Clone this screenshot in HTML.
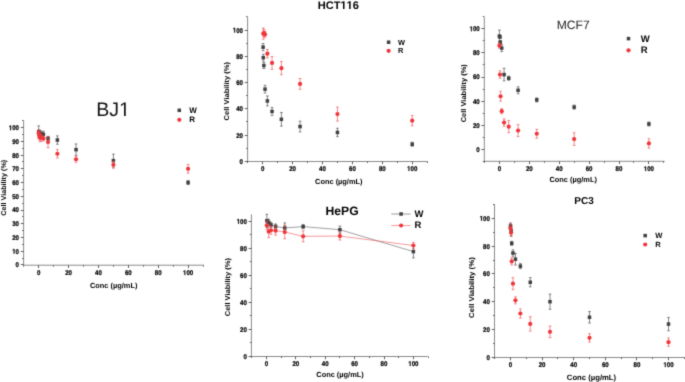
<!DOCTYPE html>
<html><head><meta charset="utf-8"><title>Cell viability</title>
<style>
html,body{margin:0;padding:0;background:#fff;}
body{width:685px;height:382px;overflow:hidden;}
svg{display:block;text-rendering:geometricPrecision;font-family:"Liberation Sans",sans-serif;}
</style></head><body>
<svg width="685" height="382" viewBox="0 0 685 382">
<defs><filter id="bl" x="0" y="0" width="100%" height="100%" color-interpolation-filters="sRGB"><feConvolveMatrix order="3" kernelMatrix="0.02 0.10 0.02 0.10 0.52 0.10 0.02 0.10 0.02" divisor="1" edgeMode="duplicate"/></filter></defs>
<g filter="url(#bl)">
<rect width="685" height="382" fill="#fff"/>
<line x1="23.6" y1="120.7" x2="23.6" y2="265.7" stroke="#8a8a8a" stroke-width="1"/>
<line x1="23.1" y1="265.2" x2="203.8" y2="265.2" stroke="#8a8a8a" stroke-width="1"/>
<line x1="20.8" y1="264.5" x2="23.6" y2="264.5" stroke="#505050" stroke-width="0.9"/>
<g transform="translate(0,267.36) scale(1,1.120) translate(0,-267.36)">
<text x="15.61" y="267.36" font-size="6.1" font-weight="bold" fill="#000" stroke="#000" stroke-width="0.2">0</text>
</g>
<line x1="22.1" y1="258.5" x2="23.6" y2="258.5" stroke="#505050" stroke-width="0.9"/>
<line x1="20.8" y1="251.5" x2="23.6" y2="251.5" stroke="#505050" stroke-width="0.9"/>
<g transform="translate(0,253.64) scale(1,1.120) translate(0,-253.64)">
<path d="M478,0 L478,1170 L140,959 L140,1180 L493,1409 L759,1409 L759,0 Z" fill="#000" stroke="#000" stroke-width="67.1" transform="translate(12.21,253.64) scale(0.00298,-0.00298)"/>
<text x="15.61" y="253.64" font-size="6.1" font-weight="bold" fill="#000" stroke="#000" stroke-width="0.2">0</text>
</g>
<line x1="22.1" y1="244.5" x2="23.6" y2="244.5" stroke="#505050" stroke-width="0.9"/>
<line x1="20.8" y1="237.5" x2="23.6" y2="237.5" stroke="#505050" stroke-width="0.9"/>
<g transform="translate(0,239.92) scale(1,1.120) translate(0,-239.92)">
<text x="12.21" y="239.92" font-size="6.1" font-weight="bold" fill="#000" stroke="#000" stroke-width="0.2">20</text>
</g>
<line x1="22.1" y1="230.5" x2="23.6" y2="230.5" stroke="#505050" stroke-width="0.9"/>
<line x1="20.8" y1="223.5" x2="23.6" y2="223.5" stroke="#505050" stroke-width="0.9"/>
<g transform="translate(0,226.2) scale(1,1.120) translate(0,-226.2)">
<text x="12.21" y="226.2" font-size="6.1" font-weight="bold" fill="#000" stroke="#000" stroke-width="0.2">30</text>
</g>
<line x1="22.1" y1="216.5" x2="23.6" y2="216.5" stroke="#505050" stroke-width="0.9"/>
<line x1="20.8" y1="210.5" x2="23.6" y2="210.5" stroke="#505050" stroke-width="0.9"/>
<g transform="translate(0,212.48) scale(1,1.120) translate(0,-212.48)">
<text x="12.21" y="212.48" font-size="6.1" font-weight="bold" fill="#000" stroke="#000" stroke-width="0.2">40</text>
</g>
<line x1="22.1" y1="203.5" x2="23.6" y2="203.5" stroke="#505050" stroke-width="0.9"/>
<line x1="20.8" y1="196.5" x2="23.6" y2="196.5" stroke="#505050" stroke-width="0.9"/>
<g transform="translate(0,198.76) scale(1,1.120) translate(0,-198.76)">
<text x="12.21" y="198.76" font-size="6.1" font-weight="bold" fill="#000" stroke="#000" stroke-width="0.2">50</text>
</g>
<line x1="22.1" y1="189.5" x2="23.6" y2="189.5" stroke="#505050" stroke-width="0.9"/>
<line x1="20.8" y1="182.5" x2="23.6" y2="182.5" stroke="#505050" stroke-width="0.9"/>
<g transform="translate(0,185.04) scale(1,1.120) translate(0,-185.04)">
<text x="12.21" y="185.04" font-size="6.1" font-weight="bold" fill="#000" stroke="#000" stroke-width="0.2">60</text>
</g>
<line x1="22.1" y1="175.5" x2="23.6" y2="175.5" stroke="#505050" stroke-width="0.9"/>
<line x1="20.8" y1="168.5" x2="23.6" y2="168.5" stroke="#505050" stroke-width="0.9"/>
<g transform="translate(0,171.32) scale(1,1.120) translate(0,-171.32)">
<text x="12.21" y="171.32" font-size="6.1" font-weight="bold" fill="#000" stroke="#000" stroke-width="0.2">70</text>
</g>
<line x1="22.1" y1="161.5" x2="23.6" y2="161.5" stroke="#505050" stroke-width="0.9"/>
<line x1="20.8" y1="155.5" x2="23.6" y2="155.5" stroke="#505050" stroke-width="0.9"/>
<g transform="translate(0,157.6) scale(1,1.120) translate(0,-157.6)">
<text x="12.21" y="157.6" font-size="6.1" font-weight="bold" fill="#000" stroke="#000" stroke-width="0.2">80</text>
</g>
<line x1="22.1" y1="148.5" x2="23.6" y2="148.5" stroke="#505050" stroke-width="0.9"/>
<line x1="20.8" y1="141.5" x2="23.6" y2="141.5" stroke="#505050" stroke-width="0.9"/>
<g transform="translate(0,143.88) scale(1,1.120) translate(0,-143.88)">
<text x="12.21" y="143.88" font-size="6.1" font-weight="bold" fill="#000" stroke="#000" stroke-width="0.2">90</text>
</g>
<line x1="22.1" y1="134.5" x2="23.6" y2="134.5" stroke="#505050" stroke-width="0.9"/>
<line x1="20.8" y1="127.5" x2="23.6" y2="127.5" stroke="#505050" stroke-width="0.9"/>
<g transform="translate(0,130.16) scale(1,1.120) translate(0,-130.16)">
<path d="M478,0 L478,1170 L140,959 L140,1180 L493,1409 L759,1409 L759,0 Z" fill="#000" stroke="#000" stroke-width="67.1" transform="translate(8.82,130.16) scale(0.00298,-0.00298)"/>
<text x="12.21" y="130.16" font-size="6.1" font-weight="bold" fill="#000" stroke="#000" stroke-width="0.2">00</text>
</g>
<line x1="22.1" y1="120.5" x2="23.6" y2="120.5" stroke="#505050" stroke-width="0.9"/>
<line x1="23.5" y1="265.2" x2="23.5" y2="266.7" stroke="#505050" stroke-width="0.9"/>
<line x1="38.5" y1="265.2" x2="38.5" y2="268" stroke="#505050" stroke-width="0.9"/>
<g transform="translate(0,275.1) scale(1,1.120) translate(0,-275.1)">
<text x="37" y="275.1" font-size="6.1" font-weight="bold" fill="#000" stroke="#000" stroke-width="0.2">0</text>
</g>
<line x1="53.5" y1="265.2" x2="53.5" y2="266.7" stroke="#505050" stroke-width="0.9"/>
<line x1="68.5" y1="265.2" x2="68.5" y2="268" stroke="#505050" stroke-width="0.9"/>
<g transform="translate(0,275.1) scale(1,1.120) translate(0,-275.1)">
<text x="65.19" y="275.1" font-size="6.1" font-weight="bold" fill="#000" stroke="#000" stroke-width="0.2">20</text>
</g>
<line x1="83.5" y1="265.2" x2="83.5" y2="266.7" stroke="#505050" stroke-width="0.9"/>
<line x1="98.5" y1="265.2" x2="98.5" y2="268" stroke="#505050" stroke-width="0.9"/>
<g transform="translate(0,275.1) scale(1,1.120) translate(0,-275.1)">
<text x="95.07" y="275.1" font-size="6.1" font-weight="bold" fill="#000" stroke="#000" stroke-width="0.2">40</text>
</g>
<line x1="113.5" y1="265.2" x2="113.5" y2="266.7" stroke="#505050" stroke-width="0.9"/>
<line x1="128.5" y1="265.2" x2="128.5" y2="268" stroke="#505050" stroke-width="0.9"/>
<g transform="translate(0,275.1) scale(1,1.120) translate(0,-275.1)">
<text x="124.95" y="275.1" font-size="6.1" font-weight="bold" fill="#000" stroke="#000" stroke-width="0.2">60</text>
</g>
<line x1="143.5" y1="265.2" x2="143.5" y2="266.7" stroke="#505050" stroke-width="0.9"/>
<line x1="158.5" y1="265.2" x2="158.5" y2="268" stroke="#505050" stroke-width="0.9"/>
<g transform="translate(0,275.1) scale(1,1.120) translate(0,-275.1)">
<text x="154.83" y="275.1" font-size="6.1" font-weight="bold" fill="#000" stroke="#000" stroke-width="0.2">80</text>
</g>
<line x1="173.5" y1="265.2" x2="173.5" y2="266.7" stroke="#505050" stroke-width="0.9"/>
<line x1="188.5" y1="265.2" x2="188.5" y2="268" stroke="#505050" stroke-width="0.9"/>
<g transform="translate(0,275.1) scale(1,1.120) translate(0,-275.1)">
<path d="M478,0 L478,1170 L140,959 L140,1180 L493,1409 L759,1409 L759,0 Z" fill="#000" stroke="#000" stroke-width="67.1" transform="translate(183.01,275.1) scale(0.00298,-0.00298)"/>
<text x="186.4" y="275.1" font-size="6.1" font-weight="bold" fill="#000" stroke="#000" stroke-width="0.2">00</text>
</g>
<line x1="203.5" y1="265.2" x2="203.5" y2="266.7" stroke="#505050" stroke-width="0.9"/>
<text x="113.7" y="287.5" font-size="7.4" font-weight="bold" text-anchor="middle" fill="#000">Conc (µg/mL)</text>
<text x="-27.95" y="0" font-size="7" font-weight="bold" fill="#000" textLength="55.9" lengthAdjust="spacingAndGlyphs" transform="translate(5.5,187.75) rotate(-90)">Cell Viability (%)</text>
<line x1="38.7" y1="125.82" x2="38.7" y2="137.82" stroke="#4a4a4a" stroke-width="0.65"/>
<line x1="37.35" y1="125.82" x2="40.05" y2="125.82" stroke="#4a4a4a" stroke-width="0.65"/>
<line x1="37.35" y1="137.82" x2="40.05" y2="137.82" stroke="#4a4a4a" stroke-width="0.65"/>
<line x1="39.28" y1="130.19" x2="39.28" y2="136.19" stroke="#4a4a4a" stroke-width="0.65"/>
<line x1="37.93" y1="130.19" x2="40.63" y2="130.19" stroke="#4a4a4a" stroke-width="0.65"/>
<line x1="37.93" y1="136.19" x2="40.63" y2="136.19" stroke="#4a4a4a" stroke-width="0.65"/>
<line x1="39.87" y1="130.87" x2="39.87" y2="136.87" stroke="#4a4a4a" stroke-width="0.65"/>
<line x1="38.52" y1="130.87" x2="41.22" y2="130.87" stroke="#4a4a4a" stroke-width="0.65"/>
<line x1="38.52" y1="136.87" x2="41.22" y2="136.87" stroke="#4a4a4a" stroke-width="0.65"/>
<line x1="41.03" y1="130.87" x2="41.03" y2="136.87" stroke="#4a4a4a" stroke-width="0.65"/>
<line x1="39.68" y1="130.87" x2="42.38" y2="130.87" stroke="#4a4a4a" stroke-width="0.65"/>
<line x1="39.68" y1="136.87" x2="42.38" y2="136.87" stroke="#4a4a4a" stroke-width="0.65"/>
<line x1="43.37" y1="131.29" x2="43.37" y2="137.29" stroke="#4a4a4a" stroke-width="0.65"/>
<line x1="42.02" y1="131.29" x2="44.72" y2="131.29" stroke="#4a4a4a" stroke-width="0.65"/>
<line x1="42.02" y1="137.29" x2="44.72" y2="137.29" stroke="#4a4a4a" stroke-width="0.65"/>
<line x1="48.04" y1="136.4" x2="48.04" y2="140.4" stroke="#4a4a4a" stroke-width="0.65"/>
<line x1="46.69" y1="136.4" x2="49.39" y2="136.4" stroke="#4a4a4a" stroke-width="0.65"/>
<line x1="46.69" y1="140.4" x2="49.39" y2="140.4" stroke="#4a4a4a" stroke-width="0.65"/>
<line x1="57.38" y1="135.85" x2="57.38" y2="144.25" stroke="#4a4a4a" stroke-width="0.65"/>
<line x1="56.02" y1="135.85" x2="58.73" y2="135.85" stroke="#4a4a4a" stroke-width="0.65"/>
<line x1="56.02" y1="144.25" x2="58.73" y2="144.25" stroke="#4a4a4a" stroke-width="0.65"/>
<line x1="76.05" y1="143.95" x2="76.05" y2="155.35" stroke="#4a4a4a" stroke-width="0.65"/>
<line x1="74.7" y1="143.95" x2="77.4" y2="143.95" stroke="#4a4a4a" stroke-width="0.65"/>
<line x1="74.7" y1="155.35" x2="77.4" y2="155.35" stroke="#4a4a4a" stroke-width="0.65"/>
<line x1="113.4" y1="154.13" x2="113.4" y2="167.13" stroke="#4a4a4a" stroke-width="0.65"/>
<line x1="112.05" y1="154.13" x2="114.75" y2="154.13" stroke="#4a4a4a" stroke-width="0.65"/>
<line x1="112.05" y1="167.13" x2="114.75" y2="167.13" stroke="#4a4a4a" stroke-width="0.65"/>
<line x1="188.1" y1="180.58" x2="188.1" y2="184.58" stroke="#4a4a4a" stroke-width="0.65"/>
<line x1="186.75" y1="180.58" x2="189.45" y2="180.58" stroke="#4a4a4a" stroke-width="0.65"/>
<line x1="186.75" y1="184.58" x2="189.45" y2="184.58" stroke="#4a4a4a" stroke-width="0.65"/>
<rect x="36.95" y="130.07" width="3.5" height="3.5" fill="#404040"/>
<rect x="37.53" y="131.44" width="3.5" height="3.5" fill="#404040"/>
<rect x="38.12" y="132.12" width="3.5" height="3.5" fill="#404040"/>
<rect x="39.28" y="132.12" width="3.5" height="3.5" fill="#404040"/>
<rect x="41.62" y="132.54" width="3.5" height="3.5" fill="#404040"/>
<rect x="46.29" y="136.65" width="3.5" height="3.5" fill="#404040"/>
<rect x="55.62" y="138.3" width="3.5" height="3.5" fill="#404040"/>
<rect x="74.3" y="147.9" width="3.5" height="3.5" fill="#404040"/>
<rect x="111.65" y="158.88" width="3.5" height="3.5" fill="#404040"/>
<rect x="186.35" y="180.83" width="3.5" height="3.5" fill="#404040"/>
<line x1="38.7" y1="129.69" x2="38.7" y2="136.69" stroke="#f24a50" stroke-width="0.65"/>
<line x1="37.35" y1="129.69" x2="40.05" y2="129.69" stroke="#f24a50" stroke-width="0.65"/>
<line x1="37.35" y1="136.69" x2="40.05" y2="136.69" stroke="#f24a50" stroke-width="0.65"/>
<line x1="39.28" y1="131.25" x2="39.28" y2="139.25" stroke="#f24a50" stroke-width="0.65"/>
<line x1="37.93" y1="131.25" x2="40.63" y2="131.25" stroke="#f24a50" stroke-width="0.65"/>
<line x1="37.93" y1="139.25" x2="40.63" y2="139.25" stroke="#f24a50" stroke-width="0.65"/>
<line x1="39.87" y1="133.3" x2="39.87" y2="141.3" stroke="#f24a50" stroke-width="0.65"/>
<line x1="38.52" y1="133.3" x2="41.22" y2="133.3" stroke="#f24a50" stroke-width="0.65"/>
<line x1="38.52" y1="141.3" x2="41.22" y2="141.3" stroke="#f24a50" stroke-width="0.65"/>
<line x1="41.03" y1="134.49" x2="41.03" y2="141.49" stroke="#f24a50" stroke-width="0.65"/>
<line x1="39.68" y1="134.49" x2="42.38" y2="134.49" stroke="#f24a50" stroke-width="0.65"/>
<line x1="39.68" y1="141.49" x2="42.38" y2="141.49" stroke="#f24a50" stroke-width="0.65"/>
<line x1="43.37" y1="135.9" x2="43.37" y2="140.9" stroke="#f24a50" stroke-width="0.65"/>
<line x1="42.02" y1="135.9" x2="44.72" y2="135.9" stroke="#f24a50" stroke-width="0.65"/>
<line x1="42.02" y1="140.9" x2="44.72" y2="140.9" stroke="#f24a50" stroke-width="0.65"/>
<line x1="48.04" y1="136.51" x2="48.04" y2="147.71" stroke="#f24a50" stroke-width="0.65"/>
<line x1="46.69" y1="136.51" x2="49.39" y2="136.51" stroke="#f24a50" stroke-width="0.65"/>
<line x1="46.69" y1="147.71" x2="49.39" y2="147.71" stroke="#f24a50" stroke-width="0.65"/>
<line x1="57.38" y1="149.57" x2="57.38" y2="157.97" stroke="#f24a50" stroke-width="0.65"/>
<line x1="56.02" y1="149.57" x2="58.73" y2="149.57" stroke="#f24a50" stroke-width="0.65"/>
<line x1="56.02" y1="157.97" x2="58.73" y2="157.97" stroke="#f24a50" stroke-width="0.65"/>
<line x1="76.05" y1="156.26" x2="76.05" y2="162.26" stroke="#f24a50" stroke-width="0.65"/>
<line x1="74.7" y1="156.26" x2="77.4" y2="156.26" stroke="#f24a50" stroke-width="0.65"/>
<line x1="74.7" y1="162.26" x2="77.4" y2="162.26" stroke="#f24a50" stroke-width="0.65"/>
<line x1="113.4" y1="161.24" x2="113.4" y2="168.24" stroke="#f24a50" stroke-width="0.65"/>
<line x1="112.05" y1="161.24" x2="114.75" y2="161.24" stroke="#f24a50" stroke-width="0.65"/>
<line x1="112.05" y1="168.24" x2="114.75" y2="168.24" stroke="#f24a50" stroke-width="0.65"/>
<line x1="188.1" y1="164.56" x2="188.1" y2="173.16" stroke="#f24a50" stroke-width="0.65"/>
<line x1="186.75" y1="164.56" x2="189.45" y2="164.56" stroke="#f24a50" stroke-width="0.65"/>
<line x1="186.75" y1="173.16" x2="189.45" y2="173.16" stroke="#f24a50" stroke-width="0.65"/>
<circle cx="38.7" cy="133.19" r="2.1" fill="#f0353a"/>
<circle cx="39.28" cy="135.25" r="2.1" fill="#f0353a"/>
<circle cx="39.87" cy="137.3" r="2.1" fill="#f0353a"/>
<circle cx="41.03" cy="137.99" r="2.1" fill="#f0353a"/>
<circle cx="43.37" cy="138.4" r="2.1" fill="#f0353a"/>
<circle cx="48.04" cy="142.11" r="2.1" fill="#f0353a"/>
<circle cx="57.38" cy="153.77" r="2.1" fill="#f0353a"/>
<circle cx="76.05" cy="159.26" r="2.1" fill="#f0353a"/>
<circle cx="113.4" cy="164.74" r="2.1" fill="#f0353a"/>
<circle cx="188.1" cy="168.86" r="2.1" fill="#f0353a"/>
<text x="96.2" y="115.9" font-size="19.6" font-weight="normal" fill="#111">BJ</text>
<path d="M515,0 L515,1237 L197,1010 L197,1180 L530,1409 L696,1409 L696,0 Z" fill="#111" transform="translate(119.07,115.9) scale(0.00957,-0.00957)"/>
<rect x="177.55" y="108.55" width="3.5" height="3.5" fill="#404040"/>
<circle cx="179.3" cy="119.8" r="2.1" fill="#f0353a"/>
<text x="189.3" y="113.18" font-size="8" font-weight="bold" text-anchor="start" fill="#000">W</text>
<text x="189.3" y="122.18" font-size="8" font-weight="bold" text-anchor="start" fill="#000">R</text>
<line x1="247.6" y1="17" x2="247.6" y2="162" stroke="#8a8a8a" stroke-width="1"/>
<line x1="247.1" y1="161.5" x2="427.6" y2="161.5" stroke="#8a8a8a" stroke-width="1"/>
<line x1="244.8" y1="161.5" x2="247.6" y2="161.5" stroke="#505050" stroke-width="0.9"/>
<g transform="translate(0,163.76) scale(1,1.120) translate(0,-163.76)">
<text x="239.61" y="163.76" font-size="6.1" font-weight="bold" fill="#000" stroke="#000" stroke-width="0.2">0</text>
</g>
<line x1="246.1" y1="148.5" x2="247.6" y2="148.5" stroke="#505050" stroke-width="0.9"/>
<line x1="244.8" y1="135.5" x2="247.6" y2="135.5" stroke="#505050" stroke-width="0.9"/>
<g transform="translate(0,137.52) scale(1,1.120) translate(0,-137.52)">
<text x="236.21" y="137.52" font-size="6.1" font-weight="bold" fill="#000" stroke="#000" stroke-width="0.2">20</text>
</g>
<line x1="246.1" y1="121.5" x2="247.6" y2="121.5" stroke="#505050" stroke-width="0.9"/>
<line x1="244.8" y1="108.5" x2="247.6" y2="108.5" stroke="#505050" stroke-width="0.9"/>
<g transform="translate(0,111.28) scale(1,1.120) translate(0,-111.28)">
<text x="236.21" y="111.28" font-size="6.1" font-weight="bold" fill="#000" stroke="#000" stroke-width="0.2">40</text>
</g>
<line x1="246.1" y1="95.5" x2="247.6" y2="95.5" stroke="#505050" stroke-width="0.9"/>
<line x1="244.8" y1="82.5" x2="247.6" y2="82.5" stroke="#505050" stroke-width="0.9"/>
<g transform="translate(0,85.04) scale(1,1.120) translate(0,-85.04)">
<text x="236.21" y="85.04" font-size="6.1" font-weight="bold" fill="#000" stroke="#000" stroke-width="0.2">60</text>
</g>
<line x1="246.1" y1="69.5" x2="247.6" y2="69.5" stroke="#505050" stroke-width="0.9"/>
<line x1="244.8" y1="56.5" x2="247.6" y2="56.5" stroke="#505050" stroke-width="0.9"/>
<g transform="translate(0,58.8) scale(1,1.120) translate(0,-58.8)">
<text x="236.21" y="58.8" font-size="6.1" font-weight="bold" fill="#000" stroke="#000" stroke-width="0.2">80</text>
</g>
<line x1="246.1" y1="43.5" x2="247.6" y2="43.5" stroke="#505050" stroke-width="0.9"/>
<line x1="244.8" y1="30.5" x2="247.6" y2="30.5" stroke="#505050" stroke-width="0.9"/>
<g transform="translate(0,32.56) scale(1,1.120) translate(0,-32.56)">
<path d="M478,0 L478,1170 L140,959 L140,1180 L493,1409 L759,1409 L759,0 Z" fill="#000" stroke="#000" stroke-width="67.1" transform="translate(232.82,32.56) scale(0.00298,-0.00298)"/>
<text x="236.21" y="32.56" font-size="6.1" font-weight="bold" fill="#000" stroke="#000" stroke-width="0.2">00</text>
</g>
<line x1="246.1" y1="16.5" x2="247.6" y2="16.5" stroke="#505050" stroke-width="0.9"/>
<line x1="247.5" y1="161.5" x2="247.5" y2="163" stroke="#505050" stroke-width="0.9"/>
<line x1="262.5" y1="161.5" x2="262.5" y2="164.3" stroke="#505050" stroke-width="0.9"/>
<g transform="translate(0,171) scale(1,1.120) translate(0,-171)">
<text x="261" y="171" font-size="6.1" font-weight="bold" fill="#000" stroke="#000" stroke-width="0.2">0</text>
</g>
<line x1="277.5" y1="161.5" x2="277.5" y2="163" stroke="#505050" stroke-width="0.9"/>
<line x1="292.5" y1="161.5" x2="292.5" y2="164.3" stroke="#505050" stroke-width="0.9"/>
<g transform="translate(0,171) scale(1,1.120) translate(0,-171)">
<text x="289.21" y="171" font-size="6.1" font-weight="bold" fill="#000" stroke="#000" stroke-width="0.2">20</text>
</g>
<line x1="307.5" y1="161.5" x2="307.5" y2="163" stroke="#505050" stroke-width="0.9"/>
<line x1="322.5" y1="161.5" x2="322.5" y2="164.3" stroke="#505050" stroke-width="0.9"/>
<g transform="translate(0,171) scale(1,1.120) translate(0,-171)">
<text x="319.11" y="171" font-size="6.1" font-weight="bold" fill="#000" stroke="#000" stroke-width="0.2">40</text>
</g>
<line x1="337.5" y1="161.5" x2="337.5" y2="163" stroke="#505050" stroke-width="0.9"/>
<line x1="352.5" y1="161.5" x2="352.5" y2="164.3" stroke="#505050" stroke-width="0.9"/>
<g transform="translate(0,171) scale(1,1.120) translate(0,-171)">
<text x="349.01" y="171" font-size="6.1" font-weight="bold" fill="#000" stroke="#000" stroke-width="0.2">60</text>
</g>
<line x1="367.5" y1="161.5" x2="367.5" y2="163" stroke="#505050" stroke-width="0.9"/>
<line x1="382.5" y1="161.5" x2="382.5" y2="164.3" stroke="#505050" stroke-width="0.9"/>
<g transform="translate(0,171) scale(1,1.120) translate(0,-171)">
<text x="378.91" y="171" font-size="6.1" font-weight="bold" fill="#000" stroke="#000" stroke-width="0.2">80</text>
</g>
<line x1="397.5" y1="161.5" x2="397.5" y2="163" stroke="#505050" stroke-width="0.9"/>
<line x1="412.5" y1="161.5" x2="412.5" y2="164.3" stroke="#505050" stroke-width="0.9"/>
<g transform="translate(0,171) scale(1,1.120) translate(0,-171)">
<path d="M478,0 L478,1170 L140,959 L140,1180 L493,1409 L759,1409 L759,0 Z" fill="#000" stroke="#000" stroke-width="67.1" transform="translate(407.11,171) scale(0.00298,-0.00298)"/>
<text x="410.5" y="171" font-size="6.1" font-weight="bold" fill="#000" stroke="#000" stroke-width="0.2">00</text>
</g>
<line x1="427.5" y1="161.5" x2="427.5" y2="163" stroke="#505050" stroke-width="0.9"/>
<text x="338.8" y="183.8" font-size="7.4" font-weight="bold" text-anchor="middle" fill="#000">Conc (µg/mL)</text>
<text x="-29.2" y="0" font-size="7" font-weight="bold" fill="#000" textLength="58.4" lengthAdjust="spacingAndGlyphs" transform="translate(228.5,91.2) rotate(-90)">Cell Viability (%)</text>
<line x1="263.1" y1="43.56" x2="263.1" y2="50.76" stroke="#4a4a4a" stroke-width="0.65"/>
<line x1="261.75" y1="43.56" x2="264.45" y2="43.56" stroke="#4a4a4a" stroke-width="0.65"/>
<line x1="261.75" y1="50.76" x2="264.45" y2="50.76" stroke="#4a4a4a" stroke-width="0.65"/>
<line x1="263.3" y1="54.25" x2="263.3" y2="61.05" stroke="#4a4a4a" stroke-width="0.65"/>
<line x1="261.95" y1="54.25" x2="264.65" y2="54.25" stroke="#4a4a4a" stroke-width="0.65"/>
<line x1="261.95" y1="61.05" x2="264.65" y2="61.05" stroke="#4a4a4a" stroke-width="0.65"/>
<line x1="263.87" y1="62.52" x2="263.87" y2="68.52" stroke="#4a4a4a" stroke-width="0.65"/>
<line x1="262.52" y1="62.52" x2="265.22" y2="62.52" stroke="#4a4a4a" stroke-width="0.65"/>
<line x1="262.52" y1="68.52" x2="265.22" y2="68.52" stroke="#4a4a4a" stroke-width="0.65"/>
<line x1="265.03" y1="85.34" x2="265.03" y2="92.94" stroke="#4a4a4a" stroke-width="0.65"/>
<line x1="263.68" y1="85.34" x2="266.38" y2="85.34" stroke="#4a4a4a" stroke-width="0.65"/>
<line x1="263.68" y1="92.94" x2="266.38" y2="92.94" stroke="#4a4a4a" stroke-width="0.65"/>
<line x1="267.37" y1="95.95" x2="267.37" y2="105.95" stroke="#4a4a4a" stroke-width="0.65"/>
<line x1="266.02" y1="95.95" x2="268.72" y2="95.95" stroke="#4a4a4a" stroke-width="0.65"/>
<line x1="266.02" y1="105.95" x2="268.72" y2="105.95" stroke="#4a4a4a" stroke-width="0.65"/>
<line x1="272.04" y1="107.44" x2="272.04" y2="115.44" stroke="#4a4a4a" stroke-width="0.65"/>
<line x1="270.69" y1="107.44" x2="273.39" y2="107.44" stroke="#4a4a4a" stroke-width="0.65"/>
<line x1="270.69" y1="115.44" x2="273.39" y2="115.44" stroke="#4a4a4a" stroke-width="0.65"/>
<line x1="281.39" y1="112.52" x2="281.39" y2="126.12" stroke="#4a4a4a" stroke-width="0.65"/>
<line x1="280.04" y1="112.52" x2="282.74" y2="112.52" stroke="#4a4a4a" stroke-width="0.65"/>
<line x1="280.04" y1="126.12" x2="282.74" y2="126.12" stroke="#4a4a4a" stroke-width="0.65"/>
<line x1="300.07" y1="121.13" x2="300.07" y2="131.93" stroke="#4a4a4a" stroke-width="0.65"/>
<line x1="298.72" y1="121.13" x2="301.43" y2="121.13" stroke="#4a4a4a" stroke-width="0.65"/>
<line x1="298.72" y1="131.93" x2="301.43" y2="131.93" stroke="#4a4a4a" stroke-width="0.65"/>
<line x1="337.45" y1="128.24" x2="337.45" y2="136.64" stroke="#4a4a4a" stroke-width="0.65"/>
<line x1="336.1" y1="128.24" x2="338.8" y2="128.24" stroke="#4a4a4a" stroke-width="0.65"/>
<line x1="336.1" y1="136.64" x2="338.8" y2="136.64" stroke="#4a4a4a" stroke-width="0.65"/>
<line x1="412.2" y1="142.24" x2="412.2" y2="146.24" stroke="#4a4a4a" stroke-width="0.65"/>
<line x1="410.85" y1="142.24" x2="413.55" y2="142.24" stroke="#4a4a4a" stroke-width="0.65"/>
<line x1="410.85" y1="146.24" x2="413.55" y2="146.24" stroke="#4a4a4a" stroke-width="0.65"/>
<rect x="261.35" y="45.41" width="3.5" height="3.5" fill="#404040"/>
<rect x="261.55" y="55.9" width="3.5" height="3.5" fill="#404040"/>
<rect x="262.12" y="63.77" width="3.5" height="3.5" fill="#404040"/>
<rect x="263.28" y="87.39" width="3.5" height="3.5" fill="#404040"/>
<rect x="265.62" y="99.2" width="3.5" height="3.5" fill="#404040"/>
<rect x="270.29" y="109.69" width="3.5" height="3.5" fill="#404040"/>
<rect x="279.64" y="117.57" width="3.5" height="3.5" fill="#404040"/>
<rect x="298.32" y="124.78" width="3.5" height="3.5" fill="#404040"/>
<rect x="335.7" y="130.69" width="3.5" height="3.5" fill="#404040"/>
<rect x="410.45" y="142.49" width="3.5" height="3.5" fill="#404040"/>
<line x1="263.28" y1="28.04" x2="263.28" y2="39.24" stroke="#f24a50" stroke-width="0.65"/>
<line x1="261.93" y1="28.04" x2="264.63" y2="28.04" stroke="#f24a50" stroke-width="0.65"/>
<line x1="261.93" y1="39.24" x2="264.63" y2="39.24" stroke="#f24a50" stroke-width="0.65"/>
<line x1="263.87" y1="29.49" x2="263.87" y2="36.49" stroke="#f24a50" stroke-width="0.65"/>
<line x1="262.52" y1="29.49" x2="265.22" y2="29.49" stroke="#f24a50" stroke-width="0.65"/>
<line x1="262.52" y1="36.49" x2="265.22" y2="36.49" stroke="#f24a50" stroke-width="0.65"/>
<line x1="265.03" y1="31.3" x2="265.03" y2="37.3" stroke="#f24a50" stroke-width="0.65"/>
<line x1="263.68" y1="31.3" x2="266.38" y2="31.3" stroke="#f24a50" stroke-width="0.65"/>
<line x1="263.68" y1="37.3" x2="266.38" y2="37.3" stroke="#f24a50" stroke-width="0.65"/>
<line x1="267.37" y1="49.52" x2="267.37" y2="57.92" stroke="#f24a50" stroke-width="0.65"/>
<line x1="266.02" y1="49.52" x2="268.72" y2="49.52" stroke="#f24a50" stroke-width="0.65"/>
<line x1="266.02" y1="57.92" x2="268.72" y2="57.92" stroke="#f24a50" stroke-width="0.65"/>
<line x1="272.04" y1="56.5" x2="272.04" y2="69.3" stroke="#f24a50" stroke-width="0.65"/>
<line x1="270.69" y1="56.5" x2="273.39" y2="56.5" stroke="#f24a50" stroke-width="0.65"/>
<line x1="270.69" y1="69.3" x2="273.39" y2="69.3" stroke="#f24a50" stroke-width="0.65"/>
<line x1="281.39" y1="61.55" x2="281.39" y2="74.75" stroke="#f24a50" stroke-width="0.65"/>
<line x1="280.04" y1="61.55" x2="282.74" y2="61.55" stroke="#f24a50" stroke-width="0.65"/>
<line x1="280.04" y1="74.75" x2="282.74" y2="74.75" stroke="#f24a50" stroke-width="0.65"/>
<line x1="300.07" y1="78.49" x2="300.07" y2="89.29" stroke="#f24a50" stroke-width="0.65"/>
<line x1="298.72" y1="78.49" x2="301.43" y2="78.49" stroke="#f24a50" stroke-width="0.65"/>
<line x1="298.72" y1="89.29" x2="301.43" y2="89.29" stroke="#f24a50" stroke-width="0.65"/>
<line x1="337.45" y1="107.07" x2="337.45" y2="121.07" stroke="#f24a50" stroke-width="0.65"/>
<line x1="336.1" y1="107.07" x2="338.8" y2="107.07" stroke="#f24a50" stroke-width="0.65"/>
<line x1="336.1" y1="121.07" x2="338.8" y2="121.07" stroke="#f24a50" stroke-width="0.65"/>
<line x1="412.2" y1="115.43" x2="412.2" y2="125.83" stroke="#f24a50" stroke-width="0.65"/>
<line x1="410.85" y1="115.43" x2="413.55" y2="115.43" stroke="#f24a50" stroke-width="0.65"/>
<line x1="410.85" y1="125.83" x2="413.55" y2="125.83" stroke="#f24a50" stroke-width="0.65"/>
<circle cx="263.28" cy="33.64" r="2.1" fill="#f0353a"/>
<circle cx="263.87" cy="32.99" r="2.1" fill="#f0353a"/>
<circle cx="265.03" cy="34.3" r="2.1" fill="#f0353a"/>
<circle cx="267.37" cy="53.72" r="2.1" fill="#f0353a"/>
<circle cx="272.04" cy="62.9" r="2.1" fill="#f0353a"/>
<circle cx="281.39" cy="68.15" r="2.1" fill="#f0353a"/>
<circle cx="300.07" cy="83.89" r="2.1" fill="#f0353a"/>
<circle cx="337.45" cy="114.07" r="2.1" fill="#f0353a"/>
<circle cx="412.2" cy="120.63" r="2.1" fill="#f0353a"/>
<text x="317.7" y="8.9" font-size="11.05" font-weight="bold" fill="#000">HCT</text>
<path d="M478,0 L478,1170 L140,959 L140,1180 L493,1409 L759,1409 L759,0 Z" fill="#000" transform="translate(340.41,8.9) scale(0.00540,-0.00540)"/>
<path d="M478,0 L478,1170 L140,959 L140,1180 L493,1409 L759,1409 L759,0 Z" fill="#000" transform="translate(346.56,8.9) scale(0.00540,-0.00540)"/>
<text x="352.7" y="8.9" font-size="11.05" font-weight="bold" fill="#000">6</text>
<rect x="386.85" y="40.45" width="3.5" height="3.5" fill="#404040"/>
<circle cx="388.6" cy="50.8" r="2.1" fill="#f0353a"/>
<text x="398" y="44.56" font-size="7.4" font-weight="bold" text-anchor="start" fill="#000">W</text>
<text x="398" y="53.46" font-size="7.4" font-weight="bold" text-anchor="start" fill="#000">R</text>
<line x1="484.3" y1="17.1" x2="484.3" y2="161.8" stroke="#8a8a8a" stroke-width="1"/>
<line x1="483.8" y1="161.3" x2="664.6" y2="161.3" stroke="#8a8a8a" stroke-width="1"/>
<line x1="482.8" y1="161.5" x2="484.3" y2="161.5" stroke="#505050" stroke-width="0.9"/>
<line x1="481.5" y1="149.5" x2="484.3" y2="149.5" stroke="#505050" stroke-width="0.9"/>
<g transform="translate(0,151.76) scale(1,1.120) translate(0,-151.76)">
<text x="476.31" y="151.76" font-size="6.1" font-weight="bold" fill="#000" stroke="#000" stroke-width="0.2">0</text>
</g>
<line x1="482.8" y1="137.5" x2="484.3" y2="137.5" stroke="#505050" stroke-width="0.9"/>
<line x1="481.5" y1="125.5" x2="484.3" y2="125.5" stroke="#505050" stroke-width="0.9"/>
<g transform="translate(0,127.66) scale(1,1.120) translate(0,-127.66)">
<text x="472.91" y="127.66" font-size="6.1" font-weight="bold" fill="#000" stroke="#000" stroke-width="0.2">20</text>
</g>
<line x1="482.8" y1="113.5" x2="484.3" y2="113.5" stroke="#505050" stroke-width="0.9"/>
<line x1="481.5" y1="101.5" x2="484.3" y2="101.5" stroke="#505050" stroke-width="0.9"/>
<g transform="translate(0,103.56) scale(1,1.120) translate(0,-103.56)">
<text x="472.91" y="103.56" font-size="6.1" font-weight="bold" fill="#000" stroke="#000" stroke-width="0.2">40</text>
</g>
<line x1="482.8" y1="89.5" x2="484.3" y2="89.5" stroke="#505050" stroke-width="0.9"/>
<line x1="481.5" y1="77.5" x2="484.3" y2="77.5" stroke="#505050" stroke-width="0.9"/>
<g transform="translate(0,79.46) scale(1,1.120) translate(0,-79.46)">
<text x="472.91" y="79.46" font-size="6.1" font-weight="bold" fill="#000" stroke="#000" stroke-width="0.2">60</text>
</g>
<line x1="482.8" y1="64.5" x2="484.3" y2="64.5" stroke="#505050" stroke-width="0.9"/>
<line x1="481.5" y1="52.5" x2="484.3" y2="52.5" stroke="#505050" stroke-width="0.9"/>
<g transform="translate(0,55.36) scale(1,1.120) translate(0,-55.36)">
<text x="472.91" y="55.36" font-size="6.1" font-weight="bold" fill="#000" stroke="#000" stroke-width="0.2">80</text>
</g>
<line x1="482.8" y1="40.5" x2="484.3" y2="40.5" stroke="#505050" stroke-width="0.9"/>
<line x1="481.5" y1="28.5" x2="484.3" y2="28.5" stroke="#505050" stroke-width="0.9"/>
<g transform="translate(0,31.26) scale(1,1.120) translate(0,-31.26)">
<path d="M478,0 L478,1170 L140,959 L140,1180 L493,1409 L759,1409 L759,0 Z" fill="#000" stroke="#000" stroke-width="67.1" transform="translate(469.52,31.26) scale(0.00298,-0.00298)"/>
<text x="472.91" y="31.26" font-size="6.1" font-weight="bold" fill="#000" stroke="#000" stroke-width="0.2">00</text>
</g>
<line x1="482.8" y1="16.5" x2="484.3" y2="16.5" stroke="#505050" stroke-width="0.9"/>
<line x1="484.5" y1="161.3" x2="484.5" y2="162.8" stroke="#505050" stroke-width="0.9"/>
<line x1="499.5" y1="161.3" x2="499.5" y2="164.1" stroke="#505050" stroke-width="0.9"/>
<g transform="translate(0,171.1) scale(1,1.120) translate(0,-171.1)">
<text x="497.7" y="171.1" font-size="6.1" font-weight="bold" fill="#000" stroke="#000" stroke-width="0.2">0</text>
</g>
<line x1="514.5" y1="161.3" x2="514.5" y2="162.8" stroke="#505050" stroke-width="0.9"/>
<line x1="529.5" y1="161.3" x2="529.5" y2="164.1" stroke="#505050" stroke-width="0.9"/>
<g transform="translate(0,171.1) scale(1,1.120) translate(0,-171.1)">
<text x="525.91" y="171.1" font-size="6.1" font-weight="bold" fill="#000" stroke="#000" stroke-width="0.2">20</text>
</g>
<line x1="544.5" y1="161.3" x2="544.5" y2="162.8" stroke="#505050" stroke-width="0.9"/>
<line x1="559.5" y1="161.3" x2="559.5" y2="164.1" stroke="#505050" stroke-width="0.9"/>
<g transform="translate(0,171.1) scale(1,1.120) translate(0,-171.1)">
<text x="555.81" y="171.1" font-size="6.1" font-weight="bold" fill="#000" stroke="#000" stroke-width="0.2">40</text>
</g>
<line x1="574.5" y1="161.3" x2="574.5" y2="162.8" stroke="#505050" stroke-width="0.9"/>
<line x1="589.5" y1="161.3" x2="589.5" y2="164.1" stroke="#505050" stroke-width="0.9"/>
<g transform="translate(0,171.1) scale(1,1.120) translate(0,-171.1)">
<text x="585.71" y="171.1" font-size="6.1" font-weight="bold" fill="#000" stroke="#000" stroke-width="0.2">60</text>
</g>
<line x1="604.5" y1="161.3" x2="604.5" y2="162.8" stroke="#505050" stroke-width="0.9"/>
<line x1="619.5" y1="161.3" x2="619.5" y2="164.1" stroke="#505050" stroke-width="0.9"/>
<g transform="translate(0,171.1) scale(1,1.120) translate(0,-171.1)">
<text x="615.61" y="171.1" font-size="6.1" font-weight="bold" fill="#000" stroke="#000" stroke-width="0.2">80</text>
</g>
<line x1="633.5" y1="161.3" x2="633.5" y2="162.8" stroke="#505050" stroke-width="0.9"/>
<line x1="648.5" y1="161.3" x2="648.5" y2="164.1" stroke="#505050" stroke-width="0.9"/>
<g transform="translate(0,171.1) scale(1,1.120) translate(0,-171.1)">
<path d="M478,0 L478,1170 L140,959 L140,1180 L493,1409 L759,1409 L759,0 Z" fill="#000" stroke="#000" stroke-width="67.1" transform="translate(643.81,171.1) scale(0.00298,-0.00298)"/>
<text x="647.2" y="171.1" font-size="6.1" font-weight="bold" fill="#000" stroke="#000" stroke-width="0.2">00</text>
</g>
<line x1="663.5" y1="161.3" x2="663.5" y2="162.8" stroke="#505050" stroke-width="0.9"/>
<text x="573.2" y="182.2" font-size="7.4" font-weight="bold" text-anchor="middle" fill="#000">Conc (µg/mL)</text>
<text x="-29.05" y="0" font-size="7" font-weight="bold" fill="#000" textLength="58.1" lengthAdjust="spacingAndGlyphs" transform="translate(465.6,93.25) rotate(-90)">Cell Viability (%)</text>
<line x1="499.4" y1="30.03" x2="499.4" y2="42.03" stroke="#4a4a4a" stroke-width="0.65"/>
<line x1="498.05" y1="30.03" x2="500.75" y2="30.03" stroke="#4a4a4a" stroke-width="0.65"/>
<line x1="498.05" y1="42.03" x2="500.75" y2="42.03" stroke="#4a4a4a" stroke-width="0.65"/>
<line x1="499.98" y1="35.79" x2="499.98" y2="38.19" stroke="#4a4a4a" stroke-width="0.65"/>
<line x1="498.63" y1="35.79" x2="501.33" y2="35.79" stroke="#4a4a4a" stroke-width="0.65"/>
<line x1="498.63" y1="38.19" x2="501.33" y2="38.19" stroke="#4a4a4a" stroke-width="0.65"/>
<line x1="500.3" y1="40.86" x2="500.3" y2="43.26" stroke="#4a4a4a" stroke-width="0.65"/>
<line x1="498.95" y1="40.86" x2="501.65" y2="40.86" stroke="#4a4a4a" stroke-width="0.65"/>
<line x1="498.95" y1="43.26" x2="501.65" y2="43.26" stroke="#4a4a4a" stroke-width="0.65"/>
<line x1="501.73" y1="44.58" x2="501.73" y2="51.58" stroke="#4a4a4a" stroke-width="0.65"/>
<line x1="500.38" y1="44.58" x2="503.08" y2="44.58" stroke="#4a4a4a" stroke-width="0.65"/>
<line x1="500.38" y1="51.58" x2="503.08" y2="51.58" stroke="#4a4a4a" stroke-width="0.65"/>
<line x1="504.07" y1="68.29" x2="504.07" y2="80.89" stroke="#4a4a4a" stroke-width="0.65"/>
<line x1="502.72" y1="68.29" x2="505.42" y2="68.29" stroke="#4a4a4a" stroke-width="0.65"/>
<line x1="502.72" y1="80.89" x2="505.42" y2="80.89" stroke="#4a4a4a" stroke-width="0.65"/>
<line x1="508.74" y1="76.21" x2="508.74" y2="80.21" stroke="#4a4a4a" stroke-width="0.65"/>
<line x1="507.39" y1="76.21" x2="510.09" y2="76.21" stroke="#4a4a4a" stroke-width="0.65"/>
<line x1="507.39" y1="80.21" x2="510.09" y2="80.21" stroke="#4a4a4a" stroke-width="0.65"/>
<line x1="518.09" y1="86.76" x2="518.09" y2="93.76" stroke="#4a4a4a" stroke-width="0.65"/>
<line x1="516.74" y1="86.76" x2="519.44" y2="86.76" stroke="#4a4a4a" stroke-width="0.65"/>
<line x1="516.74" y1="93.76" x2="519.44" y2="93.76" stroke="#4a4a4a" stroke-width="0.65"/>
<line x1="536.77" y1="97.9" x2="536.77" y2="101.9" stroke="#4a4a4a" stroke-width="0.65"/>
<line x1="535.42" y1="97.9" x2="538.12" y2="97.9" stroke="#4a4a4a" stroke-width="0.65"/>
<line x1="535.42" y1="101.9" x2="538.12" y2="101.9" stroke="#4a4a4a" stroke-width="0.65"/>
<line x1="574.15" y1="105.12" x2="574.15" y2="109.12" stroke="#4a4a4a" stroke-width="0.65"/>
<line x1="572.8" y1="105.12" x2="575.5" y2="105.12" stroke="#4a4a4a" stroke-width="0.65"/>
<line x1="572.8" y1="109.12" x2="575.5" y2="109.12" stroke="#4a4a4a" stroke-width="0.65"/>
<line x1="648.9" y1="122" x2="648.9" y2="126" stroke="#4a4a4a" stroke-width="0.65"/>
<line x1="647.55" y1="122" x2="650.25" y2="122" stroke="#4a4a4a" stroke-width="0.65"/>
<line x1="647.55" y1="126" x2="650.25" y2="126" stroke="#4a4a4a" stroke-width="0.65"/>
<rect x="497.65" y="34.28" width="3.5" height="3.5" fill="#404040"/>
<rect x="498.23" y="35.24" width="3.5" height="3.5" fill="#404040"/>
<rect x="498.55" y="40.31" width="3.5" height="3.5" fill="#404040"/>
<rect x="499.98" y="46.33" width="3.5" height="3.5" fill="#404040"/>
<rect x="502.32" y="72.84" width="3.5" height="3.5" fill="#404040"/>
<rect x="506.99" y="76.46" width="3.5" height="3.5" fill="#404040"/>
<rect x="516.34" y="88.51" width="3.5" height="3.5" fill="#404040"/>
<rect x="535.02" y="98.15" width="3.5" height="3.5" fill="#404040"/>
<rect x="572.4" y="105.38" width="3.5" height="3.5" fill="#404040"/>
<rect x="647.15" y="122.25" width="3.5" height="3.5" fill="#404040"/>
<line x1="499.4" y1="43.17" x2="499.4" y2="48.17" stroke="#f24a50" stroke-width="0.65"/>
<line x1="498.05" y1="43.17" x2="500.75" y2="43.17" stroke="#f24a50" stroke-width="0.65"/>
<line x1="498.05" y1="48.17" x2="500.75" y2="48.17" stroke="#f24a50" stroke-width="0.65"/>
<line x1="499.98" y1="70.89" x2="499.98" y2="78.29" stroke="#f24a50" stroke-width="0.65"/>
<line x1="498.63" y1="70.89" x2="501.33" y2="70.89" stroke="#f24a50" stroke-width="0.65"/>
<line x1="498.63" y1="78.29" x2="501.33" y2="78.29" stroke="#f24a50" stroke-width="0.65"/>
<line x1="500.57" y1="91.28" x2="500.57" y2="101.28" stroke="#f24a50" stroke-width="0.65"/>
<line x1="499.22" y1="91.28" x2="501.92" y2="91.28" stroke="#f24a50" stroke-width="0.65"/>
<line x1="499.22" y1="101.28" x2="501.92" y2="101.28" stroke="#f24a50" stroke-width="0.65"/>
<line x1="501.73" y1="108.72" x2="501.73" y2="113.72" stroke="#f24a50" stroke-width="0.65"/>
<line x1="500.38" y1="108.72" x2="503.08" y2="108.72" stroke="#f24a50" stroke-width="0.65"/>
<line x1="500.38" y1="113.72" x2="503.08" y2="113.72" stroke="#f24a50" stroke-width="0.65"/>
<line x1="504.07" y1="118.85" x2="504.07" y2="126.25" stroke="#f24a50" stroke-width="0.65"/>
<line x1="502.72" y1="118.85" x2="505.42" y2="118.85" stroke="#f24a50" stroke-width="0.65"/>
<line x1="502.72" y1="126.25" x2="505.42" y2="126.25" stroke="#f24a50" stroke-width="0.65"/>
<line x1="508.74" y1="120.65" x2="508.74" y2="132.65" stroke="#f24a50" stroke-width="0.65"/>
<line x1="507.39" y1="120.65" x2="510.09" y2="120.65" stroke="#f24a50" stroke-width="0.65"/>
<line x1="507.39" y1="132.65" x2="510.09" y2="132.65" stroke="#f24a50" stroke-width="0.65"/>
<line x1="518.09" y1="124.62" x2="518.09" y2="136.62" stroke="#f24a50" stroke-width="0.65"/>
<line x1="516.74" y1="124.62" x2="519.44" y2="124.62" stroke="#f24a50" stroke-width="0.65"/>
<line x1="516.74" y1="136.62" x2="519.44" y2="136.62" stroke="#f24a50" stroke-width="0.65"/>
<line x1="536.77" y1="129.36" x2="536.77" y2="138.16" stroke="#f24a50" stroke-width="0.65"/>
<line x1="535.42" y1="129.36" x2="538.12" y2="129.36" stroke="#f24a50" stroke-width="0.65"/>
<line x1="535.42" y1="138.16" x2="538.12" y2="138.16" stroke="#f24a50" stroke-width="0.65"/>
<line x1="574.15" y1="132.76" x2="574.15" y2="145.36" stroke="#f24a50" stroke-width="0.65"/>
<line x1="572.8" y1="132.76" x2="575.5" y2="132.76" stroke="#f24a50" stroke-width="0.65"/>
<line x1="572.8" y1="145.36" x2="575.5" y2="145.36" stroke="#f24a50" stroke-width="0.65"/>
<line x1="648.9" y1="138.7" x2="648.9" y2="148.1" stroke="#f24a50" stroke-width="0.65"/>
<line x1="647.55" y1="138.7" x2="650.25" y2="138.7" stroke="#f24a50" stroke-width="0.65"/>
<line x1="647.55" y1="148.1" x2="650.25" y2="148.1" stroke="#f24a50" stroke-width="0.65"/>
<circle cx="499.4" cy="45.67" r="2.1" fill="#f0353a"/>
<circle cx="499.98" cy="74.59" r="2.1" fill="#f0353a"/>
<circle cx="500.57" cy="96.28" r="2.1" fill="#f0353a"/>
<circle cx="501.73" cy="111.22" r="2.1" fill="#f0353a"/>
<circle cx="504.07" cy="122.55" r="2.1" fill="#f0353a"/>
<circle cx="508.74" cy="126.65" r="2.1" fill="#f0353a"/>
<circle cx="518.09" cy="130.62" r="2.1" fill="#f0353a"/>
<circle cx="536.77" cy="133.76" r="2.1" fill="#f0353a"/>
<circle cx="574.15" cy="139.06" r="2.1" fill="#f0353a"/>
<circle cx="648.9" cy="143.4" r="2.1" fill="#f0353a"/>
<text x="556.8" y="29.3" font-size="12.1" font-weight="normal" fill="#222">MCF7</text>
<rect x="626.75" y="36.85" width="3.5" height="3.5" fill="#404040"/>
<circle cx="628.5" cy="50.3" r="2.1" fill="#f0353a"/>
<text x="640.7" y="42.02" font-size="9.5" font-weight="bold" text-anchor="start" fill="#000">W</text>
<text x="640.7" y="52.72" font-size="9.5" font-weight="bold" text-anchor="start" fill="#000">R</text>
<line x1="251.4" y1="214.4" x2="251.4" y2="357" stroke="#8a8a8a" stroke-width="1"/>
<line x1="250.9" y1="356.5" x2="427.7" y2="356.5" stroke="#8a8a8a" stroke-width="1"/>
<line x1="248.6" y1="356.5" x2="251.4" y2="356.5" stroke="#505050" stroke-width="0.9"/>
<g transform="translate(0,358.66) scale(1,1.120) translate(0,-358.66)">
<text x="243.41" y="358.66" font-size="6.1" font-weight="bold" fill="#000" stroke="#000" stroke-width="0.2">0</text>
</g>
<line x1="249.9" y1="342.5" x2="251.4" y2="342.5" stroke="#505050" stroke-width="0.9"/>
<line x1="248.6" y1="329.5" x2="251.4" y2="329.5" stroke="#505050" stroke-width="0.9"/>
<g transform="translate(0,331.66) scale(1,1.120) translate(0,-331.66)">
<text x="240.01" y="331.66" font-size="6.1" font-weight="bold" fill="#000" stroke="#000" stroke-width="0.2">20</text>
</g>
<line x1="249.9" y1="315.5" x2="251.4" y2="315.5" stroke="#505050" stroke-width="0.9"/>
<line x1="248.6" y1="302.5" x2="251.4" y2="302.5" stroke="#505050" stroke-width="0.9"/>
<g transform="translate(0,304.66) scale(1,1.120) translate(0,-304.66)">
<text x="240.01" y="304.66" font-size="6.1" font-weight="bold" fill="#000" stroke="#000" stroke-width="0.2">40</text>
</g>
<line x1="249.9" y1="288.5" x2="251.4" y2="288.5" stroke="#505050" stroke-width="0.9"/>
<line x1="248.6" y1="275.5" x2="251.4" y2="275.5" stroke="#505050" stroke-width="0.9"/>
<g transform="translate(0,277.66) scale(1,1.120) translate(0,-277.66)">
<text x="240.01" y="277.66" font-size="6.1" font-weight="bold" fill="#000" stroke="#000" stroke-width="0.2">60</text>
</g>
<line x1="249.9" y1="261.5" x2="251.4" y2="261.5" stroke="#505050" stroke-width="0.9"/>
<line x1="248.6" y1="248.5" x2="251.4" y2="248.5" stroke="#505050" stroke-width="0.9"/>
<g transform="translate(0,250.66) scale(1,1.120) translate(0,-250.66)">
<text x="240.01" y="250.66" font-size="6.1" font-weight="bold" fill="#000" stroke="#000" stroke-width="0.2">80</text>
</g>
<line x1="249.9" y1="234.5" x2="251.4" y2="234.5" stroke="#505050" stroke-width="0.9"/>
<line x1="248.6" y1="221.5" x2="251.4" y2="221.5" stroke="#505050" stroke-width="0.9"/>
<g transform="translate(0,223.66) scale(1,1.120) translate(0,-223.66)">
<path d="M478,0 L478,1170 L140,959 L140,1180 L493,1409 L759,1409 L759,0 Z" fill="#000" stroke="#000" stroke-width="67.1" transform="translate(236.62,223.66) scale(0.00298,-0.00298)"/>
<text x="240.01" y="223.66" font-size="6.1" font-weight="bold" fill="#000" stroke="#000" stroke-width="0.2">00</text>
</g>
<line x1="251.5" y1="356.5" x2="251.5" y2="358" stroke="#505050" stroke-width="0.9"/>
<line x1="266.5" y1="356.5" x2="266.5" y2="359.3" stroke="#505050" stroke-width="0.9"/>
<g transform="translate(0,366) scale(1,1.120) translate(0,-366)">
<text x="264.7" y="366" font-size="6.1" font-weight="bold" fill="#000" stroke="#000" stroke-width="0.2">0</text>
</g>
<line x1="281.5" y1="356.5" x2="281.5" y2="358" stroke="#505050" stroke-width="0.9"/>
<line x1="295.5" y1="356.5" x2="295.5" y2="359.3" stroke="#505050" stroke-width="0.9"/>
<g transform="translate(0,366) scale(1,1.120) translate(0,-366)">
<text x="292.41" y="366" font-size="6.1" font-weight="bold" fill="#000" stroke="#000" stroke-width="0.2">20</text>
</g>
<line x1="310.5" y1="356.5" x2="310.5" y2="358" stroke="#505050" stroke-width="0.9"/>
<line x1="325.5" y1="356.5" x2="325.5" y2="359.3" stroke="#505050" stroke-width="0.9"/>
<g transform="translate(0,366) scale(1,1.120) translate(0,-366)">
<text x="321.81" y="366" font-size="6.1" font-weight="bold" fill="#000" stroke="#000" stroke-width="0.2">40</text>
</g>
<line x1="339.5" y1="356.5" x2="339.5" y2="358" stroke="#505050" stroke-width="0.9"/>
<line x1="354.5" y1="356.5" x2="354.5" y2="359.3" stroke="#505050" stroke-width="0.9"/>
<g transform="translate(0,366) scale(1,1.120) translate(0,-366)">
<text x="351.21" y="366" font-size="6.1" font-weight="bold" fill="#000" stroke="#000" stroke-width="0.2">60</text>
</g>
<line x1="369.5" y1="356.5" x2="369.5" y2="358" stroke="#505050" stroke-width="0.9"/>
<line x1="384.5" y1="356.5" x2="384.5" y2="359.3" stroke="#505050" stroke-width="0.9"/>
<g transform="translate(0,366) scale(1,1.120) translate(0,-366)">
<text x="380.61" y="366" font-size="6.1" font-weight="bold" fill="#000" stroke="#000" stroke-width="0.2">80</text>
</g>
<line x1="398.5" y1="356.5" x2="398.5" y2="358" stroke="#505050" stroke-width="0.9"/>
<line x1="413.5" y1="356.5" x2="413.5" y2="359.3" stroke="#505050" stroke-width="0.9"/>
<g transform="translate(0,366) scale(1,1.120) translate(0,-366)">
<path d="M478,0 L478,1170 L140,959 L140,1180 L493,1409 L759,1409 L759,0 Z" fill="#000" stroke="#000" stroke-width="67.1" transform="translate(408.31,366) scale(0.00298,-0.00298)"/>
<text x="411.7" y="366" font-size="6.1" font-weight="bold" fill="#000" stroke="#000" stroke-width="0.2">00</text>
</g>
<line x1="428.5" y1="356.5" x2="428.5" y2="358" stroke="#505050" stroke-width="0.9"/>
<text x="340" y="377.3" font-size="7.4" font-weight="bold" text-anchor="middle" fill="#000">Conc (µg/mL)</text>
<text x="-29.15" y="0" font-size="7" font-weight="bold" fill="#000" textLength="58.3" lengthAdjust="spacingAndGlyphs" transform="translate(229.7,287.15) rotate(-90)">Cell Viability (%)</text>
<polyline points="266.84,220.79 268.69,222.28 270.99,224.84 275.59,226.46 284.77,227.95 303.15,226.6 339.9,229.7 413.4,251.57" fill="none" stroke="#606060" stroke-width="0.6"/>
<polyline points="266.84,225.25 268.69,231.59 270.99,230.25 275.59,230.65 284.77,232 303.15,236.32 339.9,236.05 413.4,245.5" fill="none" stroke="#f2545a" stroke-width="0.6"/>
<line x1="266.84" y1="214.29" x2="266.84" y2="227.29" stroke="#4a4a4a" stroke-width="0.65"/>
<line x1="265.49" y1="214.29" x2="268.19" y2="214.29" stroke="#4a4a4a" stroke-width="0.65"/>
<line x1="265.49" y1="227.29" x2="268.19" y2="227.29" stroke="#4a4a4a" stroke-width="0.65"/>
<line x1="268.69" y1="219.08" x2="268.69" y2="225.48" stroke="#4a4a4a" stroke-width="0.65"/>
<line x1="267.34" y1="219.08" x2="270.04" y2="219.08" stroke="#4a4a4a" stroke-width="0.65"/>
<line x1="267.34" y1="225.48" x2="270.04" y2="225.48" stroke="#4a4a4a" stroke-width="0.65"/>
<line x1="270.99" y1="222.34" x2="270.99" y2="227.34" stroke="#4a4a4a" stroke-width="0.65"/>
<line x1="269.64" y1="222.34" x2="272.34" y2="222.34" stroke="#4a4a4a" stroke-width="0.65"/>
<line x1="269.64" y1="227.34" x2="272.34" y2="227.34" stroke="#4a4a4a" stroke-width="0.65"/>
<line x1="275.59" y1="223.96" x2="275.59" y2="228.96" stroke="#4a4a4a" stroke-width="0.65"/>
<line x1="274.24" y1="223.96" x2="276.94" y2="223.96" stroke="#4a4a4a" stroke-width="0.65"/>
<line x1="274.24" y1="228.96" x2="276.94" y2="228.96" stroke="#4a4a4a" stroke-width="0.65"/>
<line x1="284.77" y1="222.95" x2="284.77" y2="232.95" stroke="#4a4a4a" stroke-width="0.65"/>
<line x1="283.42" y1="222.95" x2="286.12" y2="222.95" stroke="#4a4a4a" stroke-width="0.65"/>
<line x1="283.42" y1="232.95" x2="286.12" y2="232.95" stroke="#4a4a4a" stroke-width="0.65"/>
<line x1="303.15" y1="224.6" x2="303.15" y2="228.6" stroke="#4a4a4a" stroke-width="0.65"/>
<line x1="301.8" y1="224.6" x2="304.5" y2="224.6" stroke="#4a4a4a" stroke-width="0.65"/>
<line x1="301.8" y1="228.6" x2="304.5" y2="228.6" stroke="#4a4a4a" stroke-width="0.65"/>
<line x1="339.9" y1="226" x2="339.9" y2="233.4" stroke="#4a4a4a" stroke-width="0.65"/>
<line x1="338.55" y1="226" x2="341.25" y2="226" stroke="#4a4a4a" stroke-width="0.65"/>
<line x1="338.55" y1="233.4" x2="341.25" y2="233.4" stroke="#4a4a4a" stroke-width="0.65"/>
<line x1="413.4" y1="245.27" x2="413.4" y2="257.88" stroke="#4a4a4a" stroke-width="0.65"/>
<line x1="412.05" y1="245.27" x2="414.75" y2="245.27" stroke="#4a4a4a" stroke-width="0.65"/>
<line x1="412.05" y1="257.88" x2="414.75" y2="257.88" stroke="#4a4a4a" stroke-width="0.65"/>
<rect x="265.09" y="219.04" width="3.5" height="3.5" fill="#404040"/>
<rect x="266.94" y="220.53" width="3.5" height="3.5" fill="#404040"/>
<rect x="269.24" y="223.09" width="3.5" height="3.5" fill="#404040"/>
<rect x="273.84" y="224.71" width="3.5" height="3.5" fill="#404040"/>
<rect x="283.02" y="226.2" width="3.5" height="3.5" fill="#404040"/>
<rect x="301.4" y="224.85" width="3.5" height="3.5" fill="#404040"/>
<rect x="338.15" y="227.95" width="3.5" height="3.5" fill="#404040"/>
<rect x="411.65" y="249.82" width="3.5" height="3.5" fill="#404040"/>
<line x1="266.84" y1="221.25" x2="266.84" y2="229.25" stroke="#f24a50" stroke-width="0.65"/>
<line x1="265.49" y1="221.25" x2="268.19" y2="221.25" stroke="#f24a50" stroke-width="0.65"/>
<line x1="265.49" y1="229.25" x2="268.19" y2="229.25" stroke="#f24a50" stroke-width="0.65"/>
<line x1="268.69" y1="225.59" x2="268.69" y2="237.59" stroke="#f24a50" stroke-width="0.65"/>
<line x1="267.34" y1="225.59" x2="270.04" y2="225.59" stroke="#f24a50" stroke-width="0.65"/>
<line x1="267.34" y1="237.59" x2="270.04" y2="237.59" stroke="#f24a50" stroke-width="0.65"/>
<line x1="270.99" y1="226.25" x2="270.99" y2="234.25" stroke="#f24a50" stroke-width="0.65"/>
<line x1="269.64" y1="226.25" x2="272.34" y2="226.25" stroke="#f24a50" stroke-width="0.65"/>
<line x1="269.64" y1="234.25" x2="272.34" y2="234.25" stroke="#f24a50" stroke-width="0.65"/>
<line x1="275.59" y1="226.15" x2="275.59" y2="235.15" stroke="#f24a50" stroke-width="0.65"/>
<line x1="274.24" y1="226.15" x2="276.94" y2="226.15" stroke="#f24a50" stroke-width="0.65"/>
<line x1="274.24" y1="235.15" x2="276.94" y2="235.15" stroke="#f24a50" stroke-width="0.65"/>
<line x1="284.77" y1="225.2" x2="284.77" y2="238.8" stroke="#f24a50" stroke-width="0.65"/>
<line x1="283.42" y1="225.2" x2="286.12" y2="225.2" stroke="#f24a50" stroke-width="0.65"/>
<line x1="283.42" y1="238.8" x2="286.12" y2="238.8" stroke="#f24a50" stroke-width="0.65"/>
<line x1="303.15" y1="230.82" x2="303.15" y2="241.82" stroke="#f24a50" stroke-width="0.65"/>
<line x1="301.8" y1="230.82" x2="304.5" y2="230.82" stroke="#f24a50" stroke-width="0.65"/>
<line x1="301.8" y1="241.82" x2="304.5" y2="241.82" stroke="#f24a50" stroke-width="0.65"/>
<line x1="339.9" y1="232.05" x2="339.9" y2="240.05" stroke="#f24a50" stroke-width="0.65"/>
<line x1="338.55" y1="232.05" x2="341.25" y2="232.05" stroke="#f24a50" stroke-width="0.65"/>
<line x1="338.55" y1="240.05" x2="341.25" y2="240.05" stroke="#f24a50" stroke-width="0.65"/>
<line x1="413.4" y1="242.5" x2="413.4" y2="248.5" stroke="#f24a50" stroke-width="0.65"/>
<line x1="412.05" y1="242.5" x2="414.75" y2="242.5" stroke="#f24a50" stroke-width="0.65"/>
<line x1="412.05" y1="248.5" x2="414.75" y2="248.5" stroke="#f24a50" stroke-width="0.65"/>
<circle cx="266.84" cy="225.25" r="2.1" fill="#f0353a"/>
<circle cx="268.69" cy="231.59" r="2.1" fill="#f0353a"/>
<circle cx="270.99" cy="230.25" r="2.1" fill="#f0353a"/>
<circle cx="275.59" cy="230.65" r="2.1" fill="#f0353a"/>
<circle cx="284.77" cy="232" r="2.1" fill="#f0353a"/>
<circle cx="303.15" cy="236.32" r="2.1" fill="#f0353a"/>
<circle cx="339.9" cy="236.05" r="2.1" fill="#f0353a"/>
<circle cx="413.4" cy="245.5" r="2.1" fill="#f0353a"/>
<text x="325.6" y="215.2" font-size="12.15" font-weight="bold" fill="#000">HePG</text>
<line x1="391.3" y1="214" x2="410.5" y2="214" stroke="#808080" stroke-width="0.8"/>
<line x1="391.3" y1="225.5" x2="410.5" y2="225.5" stroke="#f2545a" stroke-width="0.6"/>
<rect x="399.35" y="212.25" width="3.5" height="3.5" fill="#404040"/>
<circle cx="401.1" cy="225.5" r="2.1" fill="#f0353a"/>
<text x="414.5" y="217.42" font-size="9.5" font-weight="bold" text-anchor="start" fill="#000">W</text>
<text x="414.5" y="228.32" font-size="9.5" font-weight="bold" text-anchor="start" fill="#000">R</text>
<line x1="494.5" y1="204.1" x2="494.5" y2="358" stroke="#8a8a8a" stroke-width="1"/>
<line x1="494" y1="357.5" x2="684.6" y2="357.5" stroke="#8a8a8a" stroke-width="1"/>
<line x1="491.7" y1="357.5" x2="494.5" y2="357.5" stroke="#505050" stroke-width="0.9"/>
<g transform="translate(0,359.76) scale(1,1.120) translate(0,-359.76)">
<text x="486.51" y="359.76" font-size="6.1" font-weight="bold" fill="#000" stroke="#000" stroke-width="0.2">0</text>
</g>
<line x1="493" y1="343.5" x2="494.5" y2="343.5" stroke="#505050" stroke-width="0.9"/>
<line x1="491.7" y1="329.5" x2="494.5" y2="329.5" stroke="#505050" stroke-width="0.9"/>
<g transform="translate(0,331.96) scale(1,1.120) translate(0,-331.96)">
<text x="483.11" y="331.96" font-size="6.1" font-weight="bold" fill="#000" stroke="#000" stroke-width="0.2">20</text>
</g>
<line x1="493" y1="315.5" x2="494.5" y2="315.5" stroke="#505050" stroke-width="0.9"/>
<line x1="491.7" y1="301.5" x2="494.5" y2="301.5" stroke="#505050" stroke-width="0.9"/>
<g transform="translate(0,304.16) scale(1,1.120) translate(0,-304.16)">
<text x="483.11" y="304.16" font-size="6.1" font-weight="bold" fill="#000" stroke="#000" stroke-width="0.2">40</text>
</g>
<line x1="493" y1="287.5" x2="494.5" y2="287.5" stroke="#505050" stroke-width="0.9"/>
<line x1="491.7" y1="273.5" x2="494.5" y2="273.5" stroke="#505050" stroke-width="0.9"/>
<g transform="translate(0,276.36) scale(1,1.120) translate(0,-276.36)">
<text x="483.11" y="276.36" font-size="6.1" font-weight="bold" fill="#000" stroke="#000" stroke-width="0.2">60</text>
</g>
<line x1="493" y1="260.5" x2="494.5" y2="260.5" stroke="#505050" stroke-width="0.9"/>
<line x1="491.7" y1="246.5" x2="494.5" y2="246.5" stroke="#505050" stroke-width="0.9"/>
<g transform="translate(0,248.56) scale(1,1.120) translate(0,-248.56)">
<text x="483.11" y="248.56" font-size="6.1" font-weight="bold" fill="#000" stroke="#000" stroke-width="0.2">80</text>
</g>
<line x1="493" y1="232.5" x2="494.5" y2="232.5" stroke="#505050" stroke-width="0.9"/>
<line x1="491.7" y1="218.5" x2="494.5" y2="218.5" stroke="#505050" stroke-width="0.9"/>
<g transform="translate(0,220.76) scale(1,1.120) translate(0,-220.76)">
<path d="M478,0 L478,1170 L140,959 L140,1180 L493,1409 L759,1409 L759,0 Z" fill="#000" stroke="#000" stroke-width="67.1" transform="translate(479.72,220.76) scale(0.00298,-0.00298)"/>
<text x="483.11" y="220.76" font-size="6.1" font-weight="bold" fill="#000" stroke="#000" stroke-width="0.2">00</text>
</g>
<line x1="493" y1="204.5" x2="494.5" y2="204.5" stroke="#505050" stroke-width="0.9"/>
<line x1="494.5" y1="357.5" x2="494.5" y2="359" stroke="#505050" stroke-width="0.9"/>
<line x1="510.5" y1="357.5" x2="510.5" y2="360.3" stroke="#505050" stroke-width="0.9"/>
<g transform="translate(0,367.1) scale(1,1.120) translate(0,-367.1)">
<text x="508.8" y="367.1" font-size="6.1" font-weight="bold" fill="#000" stroke="#000" stroke-width="0.2">0</text>
</g>
<line x1="526.5" y1="357.5" x2="526.5" y2="359" stroke="#505050" stroke-width="0.9"/>
<line x1="542.5" y1="357.5" x2="542.5" y2="360.3" stroke="#505050" stroke-width="0.9"/>
<g transform="translate(0,367.1) scale(1,1.120) translate(0,-367.1)">
<text x="538.71" y="367.1" font-size="6.1" font-weight="bold" fill="#000" stroke="#000" stroke-width="0.2">20</text>
</g>
<line x1="557.5" y1="357.5" x2="557.5" y2="359" stroke="#505050" stroke-width="0.9"/>
<line x1="573.5" y1="357.5" x2="573.5" y2="360.3" stroke="#505050" stroke-width="0.9"/>
<g transform="translate(0,367.1) scale(1,1.120) translate(0,-367.1)">
<text x="570.31" y="367.1" font-size="6.1" font-weight="bold" fill="#000" stroke="#000" stroke-width="0.2">40</text>
</g>
<line x1="589.5" y1="357.5" x2="589.5" y2="359" stroke="#505050" stroke-width="0.9"/>
<line x1="605.5" y1="357.5" x2="605.5" y2="360.3" stroke="#505050" stroke-width="0.9"/>
<g transform="translate(0,367.1) scale(1,1.120) translate(0,-367.1)">
<text x="601.91" y="367.1" font-size="6.1" font-weight="bold" fill="#000" stroke="#000" stroke-width="0.2">60</text>
</g>
<line x1="621.5" y1="357.5" x2="621.5" y2="359" stroke="#505050" stroke-width="0.9"/>
<line x1="636.5" y1="357.5" x2="636.5" y2="360.3" stroke="#505050" stroke-width="0.9"/>
<g transform="translate(0,367.1) scale(1,1.120) translate(0,-367.1)">
<text x="633.51" y="367.1" font-size="6.1" font-weight="bold" fill="#000" stroke="#000" stroke-width="0.2">80</text>
</g>
<line x1="652.5" y1="357.5" x2="652.5" y2="359" stroke="#505050" stroke-width="0.9"/>
<line x1="668.5" y1="357.5" x2="668.5" y2="360.3" stroke="#505050" stroke-width="0.9"/>
<g transform="translate(0,367.1) scale(1,1.120) translate(0,-367.1)">
<path d="M478,0 L478,1170 L140,959 L140,1180 L493,1409 L759,1409 L759,0 Z" fill="#000" stroke="#000" stroke-width="67.1" transform="translate(663.41,367.1) scale(0.00298,-0.00298)"/>
<text x="666.8" y="367.1" font-size="6.1" font-weight="bold" fill="#000" stroke="#000" stroke-width="0.2">00</text>
</g>
<line x1="684.5" y1="357.5" x2="684.5" y2="359" stroke="#505050" stroke-width="0.9"/>
<text x="591.5" y="379.8" font-size="7.7" font-weight="bold" text-anchor="middle" fill="#000">Conc (µg/mL)</text>
<text x="-30.4" y="0" font-size="7" font-weight="bold" fill="#000" textLength="60.8" lengthAdjust="spacingAndGlyphs" transform="translate(473.9,287.6) rotate(-90)">Cell Viability (%)</text>
<line x1="510.5" y1="222.95" x2="510.5" y2="228.95" stroke="#4a4a4a" stroke-width="0.65"/>
<line x1="509.15" y1="222.95" x2="511.85" y2="222.95" stroke="#4a4a4a" stroke-width="0.65"/>
<line x1="509.15" y1="228.95" x2="511.85" y2="228.95" stroke="#4a4a4a" stroke-width="0.65"/>
<line x1="511.12" y1="225.31" x2="511.12" y2="236.31" stroke="#4a4a4a" stroke-width="0.65"/>
<line x1="509.77" y1="225.31" x2="512.47" y2="225.31" stroke="#4a4a4a" stroke-width="0.65"/>
<line x1="509.77" y1="236.31" x2="512.47" y2="236.31" stroke="#4a4a4a" stroke-width="0.65"/>
<line x1="511.73" y1="241.32" x2="511.73" y2="245.32" stroke="#4a4a4a" stroke-width="0.65"/>
<line x1="510.38" y1="241.32" x2="513.08" y2="241.32" stroke="#4a4a4a" stroke-width="0.65"/>
<line x1="510.38" y1="245.32" x2="513.08" y2="245.32" stroke="#4a4a4a" stroke-width="0.65"/>
<line x1="512.96" y1="249.85" x2="512.96" y2="256.25" stroke="#4a4a4a" stroke-width="0.65"/>
<line x1="511.61" y1="249.85" x2="514.31" y2="249.85" stroke="#4a4a4a" stroke-width="0.65"/>
<line x1="511.61" y1="256.25" x2="514.31" y2="256.25" stroke="#4a4a4a" stroke-width="0.65"/>
<line x1="515.44" y1="253.37" x2="515.44" y2="264.97" stroke="#4a4a4a" stroke-width="0.65"/>
<line x1="514.09" y1="253.37" x2="516.79" y2="253.37" stroke="#4a4a4a" stroke-width="0.65"/>
<line x1="514.09" y1="264.97" x2="516.79" y2="264.97" stroke="#4a4a4a" stroke-width="0.65"/>
<line x1="520.38" y1="263.62" x2="520.38" y2="268.62" stroke="#4a4a4a" stroke-width="0.65"/>
<line x1="519.02" y1="263.62" x2="521.73" y2="263.62" stroke="#4a4a4a" stroke-width="0.65"/>
<line x1="519.02" y1="268.62" x2="521.73" y2="268.62" stroke="#4a4a4a" stroke-width="0.65"/>
<line x1="530.25" y1="277.64" x2="530.25" y2="286.84" stroke="#4a4a4a" stroke-width="0.65"/>
<line x1="528.9" y1="277.64" x2="531.6" y2="277.64" stroke="#4a4a4a" stroke-width="0.65"/>
<line x1="528.9" y1="286.84" x2="531.6" y2="286.84" stroke="#4a4a4a" stroke-width="0.65"/>
<line x1="550" y1="294.1" x2="550" y2="309.3" stroke="#4a4a4a" stroke-width="0.65"/>
<line x1="548.65" y1="294.1" x2="551.35" y2="294.1" stroke="#4a4a4a" stroke-width="0.65"/>
<line x1="548.65" y1="309.3" x2="551.35" y2="309.3" stroke="#4a4a4a" stroke-width="0.65"/>
<line x1="589.5" y1="311.57" x2="589.5" y2="322.97" stroke="#4a4a4a" stroke-width="0.65"/>
<line x1="588.15" y1="311.57" x2="590.85" y2="311.57" stroke="#4a4a4a" stroke-width="0.65"/>
<line x1="588.15" y1="322.97" x2="590.85" y2="322.97" stroke="#4a4a4a" stroke-width="0.65"/>
<line x1="668.5" y1="317.38" x2="668.5" y2="330.78" stroke="#4a4a4a" stroke-width="0.65"/>
<line x1="667.15" y1="317.38" x2="669.85" y2="317.38" stroke="#4a4a4a" stroke-width="0.65"/>
<line x1="667.15" y1="330.78" x2="669.85" y2="330.78" stroke="#4a4a4a" stroke-width="0.65"/>
<rect x="508.75" y="224.2" width="3.5" height="3.5" fill="#404040"/>
<rect x="509.37" y="229.06" width="3.5" height="3.5" fill="#404040"/>
<rect x="509.98" y="241.57" width="3.5" height="3.5" fill="#404040"/>
<rect x="511.21" y="251.3" width="3.5" height="3.5" fill="#404040"/>
<rect x="513.69" y="257.42" width="3.5" height="3.5" fill="#404040"/>
<rect x="518.62" y="264.37" width="3.5" height="3.5" fill="#404040"/>
<rect x="528.5" y="280.49" width="3.5" height="3.5" fill="#404040"/>
<rect x="548.25" y="299.95" width="3.5" height="3.5" fill="#404040"/>
<rect x="587.75" y="315.52" width="3.5" height="3.5" fill="#404040"/>
<rect x="666.75" y="322.33" width="3.5" height="3.5" fill="#404040"/>
<line x1="510.5" y1="223.67" x2="510.5" y2="232.67" stroke="#f24a50" stroke-width="0.65"/>
<line x1="509.15" y1="223.67" x2="511.85" y2="223.67" stroke="#f24a50" stroke-width="0.65"/>
<line x1="509.15" y1="232.67" x2="511.85" y2="232.67" stroke="#f24a50" stroke-width="0.65"/>
<line x1="511.12" y1="229.76" x2="511.12" y2="235.76" stroke="#f24a50" stroke-width="0.65"/>
<line x1="509.77" y1="229.76" x2="512.47" y2="229.76" stroke="#f24a50" stroke-width="0.65"/>
<line x1="509.77" y1="235.76" x2="512.47" y2="235.76" stroke="#f24a50" stroke-width="0.65"/>
<line x1="511.73" y1="257.79" x2="511.73" y2="264.99" stroke="#f24a50" stroke-width="0.65"/>
<line x1="510.38" y1="257.79" x2="513.08" y2="257.79" stroke="#f24a50" stroke-width="0.65"/>
<line x1="510.38" y1="264.99" x2="513.08" y2="264.99" stroke="#f24a50" stroke-width="0.65"/>
<line x1="512.96" y1="277.63" x2="512.96" y2="289.63" stroke="#f24a50" stroke-width="0.65"/>
<line x1="511.61" y1="277.63" x2="514.31" y2="277.63" stroke="#f24a50" stroke-width="0.65"/>
<line x1="511.61" y1="289.63" x2="514.31" y2="289.63" stroke="#f24a50" stroke-width="0.65"/>
<line x1="515.44" y1="296.81" x2="515.44" y2="303.81" stroke="#f24a50" stroke-width="0.65"/>
<line x1="514.09" y1="296.81" x2="516.79" y2="296.81" stroke="#f24a50" stroke-width="0.65"/>
<line x1="514.09" y1="303.81" x2="516.79" y2="303.81" stroke="#f24a50" stroke-width="0.65"/>
<line x1="520.38" y1="308.91" x2="520.38" y2="318.12" stroke="#f24a50" stroke-width="0.65"/>
<line x1="519.02" y1="308.91" x2="521.73" y2="308.91" stroke="#f24a50" stroke-width="0.65"/>
<line x1="519.02" y1="318.12" x2="521.73" y2="318.12" stroke="#f24a50" stroke-width="0.65"/>
<line x1="530.25" y1="316.74" x2="530.25" y2="331.14" stroke="#f24a50" stroke-width="0.65"/>
<line x1="528.9" y1="316.74" x2="531.6" y2="316.74" stroke="#f24a50" stroke-width="0.65"/>
<line x1="528.9" y1="331.14" x2="531.6" y2="331.14" stroke="#f24a50" stroke-width="0.65"/>
<line x1="550" y1="326.06" x2="550" y2="337.66" stroke="#f24a50" stroke-width="0.65"/>
<line x1="548.65" y1="326.06" x2="551.35" y2="326.06" stroke="#f24a50" stroke-width="0.65"/>
<line x1="548.65" y1="337.66" x2="551.35" y2="337.66" stroke="#f24a50" stroke-width="0.65"/>
<line x1="589.5" y1="333.64" x2="589.5" y2="342.04" stroke="#f24a50" stroke-width="0.65"/>
<line x1="588.15" y1="333.64" x2="590.85" y2="333.64" stroke="#f24a50" stroke-width="0.65"/>
<line x1="588.15" y1="342.04" x2="590.85" y2="342.04" stroke="#f24a50" stroke-width="0.65"/>
<line x1="668.5" y1="337.95" x2="668.5" y2="346.35" stroke="#f24a50" stroke-width="0.65"/>
<line x1="667.15" y1="337.95" x2="669.85" y2="337.95" stroke="#f24a50" stroke-width="0.65"/>
<line x1="667.15" y1="346.35" x2="669.85" y2="346.35" stroke="#f24a50" stroke-width="0.65"/>
<circle cx="510.5" cy="228.17" r="2.1" fill="#f0353a"/>
<circle cx="511.12" cy="232.76" r="2.1" fill="#f0353a"/>
<circle cx="511.73" cy="261.39" r="2.1" fill="#f0353a"/>
<circle cx="512.96" cy="283.63" r="2.1" fill="#f0353a"/>
<circle cx="515.44" cy="300.31" r="2.1" fill="#f0353a"/>
<circle cx="520.38" cy="313.51" r="2.1" fill="#f0353a"/>
<circle cx="530.25" cy="323.94" r="2.1" fill="#f0353a"/>
<circle cx="550" cy="331.86" r="2.1" fill="#f0353a"/>
<circle cx="589.5" cy="337.84" r="2.1" fill="#f0353a"/>
<circle cx="668.5" cy="342.15" r="2.1" fill="#f0353a"/>
<text x="574.3" y="203.9" font-size="10" font-weight="bold" fill="#000">PC3</text>
<rect x="643.45" y="233.85" width="3.5" height="3.5" fill="#404040"/>
<circle cx="645.2" cy="244.5" r="2.1" fill="#f0353a"/>
<text x="655.2" y="238.34" font-size="7.6" font-weight="bold" text-anchor="start" fill="#000">W</text>
<text x="655.2" y="247.24" font-size="7.6" font-weight="bold" text-anchor="start" fill="#000">R</text>
</g>
</svg>
</body></html>
